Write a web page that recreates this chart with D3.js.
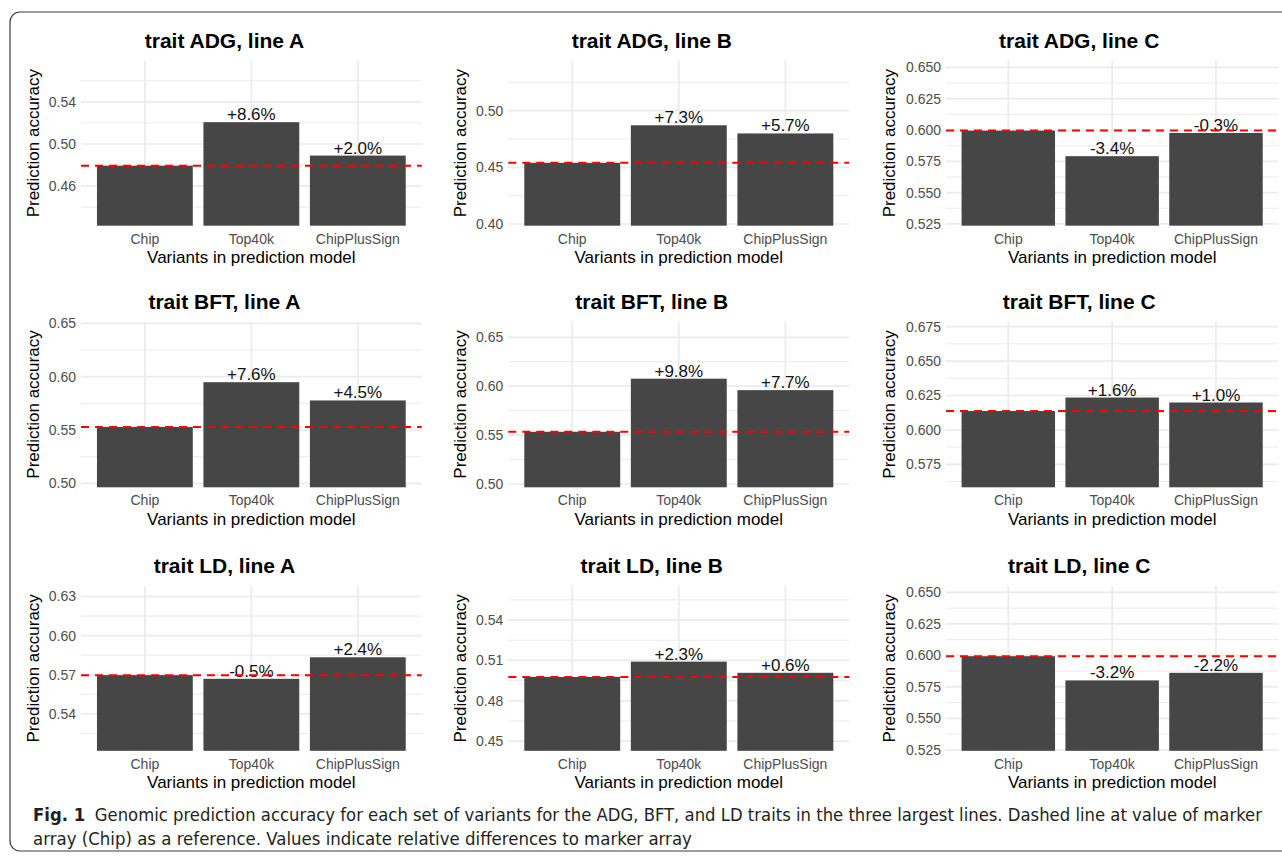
<!DOCTYPE html>
<html>
<head>
<meta charset="utf-8">
<script src="https://cdn.jsdelivr.net/npm/d3@7"></script>
<style>
  html, body { margin: 0; padding: 0; background: #fff; }
  svg { display: block; }
</style>
</head>
<body>
<svg id="fig" width="1282" height="858"></svg>
<script>
// Variant sets compared in every panel
const variantSets = ["Chip", "Top40k", "ChipPlusSign"];
const traits = ["ADG", "BFT", "LD"];
const lines = ["A", "B", "C"];

// Prediction accuracy for lines A, B, C (one value per variant set)
const accuracyADG = [
  [0.4794, 0.5207, 0.4890],
  [0.4540, 0.4871, 0.4799],
  [0.5995, 0.5791, 0.5976]
];
const accuracyBFT = [
  [0.5528, 0.5948, 0.5777],
  [0.5534, 0.6077, 0.5960],
  [0.6137, 0.6235, 0.6199]
];
const accuracyLD = [
  [0.5697, 0.5669, 0.5834],
  [0.4977, 0.5091, 0.5008],
  [0.5993, 0.5801, 0.5861]
];

// Visible y range of each panel
const yLimitsADG = [[0.4225, 0.5790], [0.3985, 0.5441], [0.5236, 0.6553]];
const yLimitsBFT = [[0.4963, 0.6515], [0.4966, 0.6660], [0.5583, 0.6786]];
const yLimitsLD  = [[0.5117, 0.6382], [0.4428, 0.5655], [0.5242, 0.6552]];

// Labelled y ticks of each panel
const yTicksADG = [[0.46, 0.50, 0.54], [0.40, 0.45, 0.50], [0.525, 0.550, 0.575, 0.600, 0.625, 0.650]];
const yTicksBFT = [[0.50, 0.55, 0.60, 0.65], [0.50, 0.55, 0.60, 0.65], [0.575, 0.600, 0.625, 0.650, 0.675]];
const yTicksLD  = [[0.54, 0.57, 0.60, 0.63], [0.45, 0.48, 0.51, 0.54], [0.525, 0.550, 0.575, 0.600, 0.625, 0.650]];

const xAxisTitle = "Variants in prediction model";
const yAxisTitle = "Prediction accuracy";
const captionBold = "Fig. 1";
const captionLine1 = "Genomic prediction accuracy for each set of variants for the ADG, BFT, and LD traits in the three largest lines. Dashed line at value of marker";
const captionLine2 = "array (Chip) as a reference. Values indicate relative differences to marker array";

const accuracyByTrait = { ADG: accuracyADG, BFT: accuracyBFT, LD: accuracyLD };
const limitsByTrait = { ADG: yLimitsADG, BFT: yLimitsBFT, LD: yLimitsLD };
const ticksByTrait = { ADG: yTicksADG, BFT: yTicksBFT, LD: yTicksLD };

// Grid layout of the 3 x 3 panels
const cellX = [0, 427.3, 854.7];
const plotLeft = [81, 508.3, 946];
const plotRight = [421.7, 849.3, 1278.3];
const yTitleX = [38.5, 466, 895.3];
const plotTop = [60.7, 321.7, 585.8];
const plotBottom = [225.7, 487.3, 750.8];

const FONT = "'Liberation Sans', Arial, Helvetica, sans-serif";
const GRID = "#EBEBEB";

const svg = d3.select("#fig");

function decimalsOf(ticks) {
  let d = 2;
  ticks.forEach(t => {
    const s = String(+t.toFixed(6));
    const k = s.includes(".") ? s.split(".")[1].length : 0;
    d = Math.max(d, k);
  });
  return d;
}

function relDiff(v, ref) {
  const p = (v / ref - 1) * 100;
  const s = p.toFixed(1);
  return (p >= 0 ? "+" : "") + s + "%";
}

function drawPanel(trait, line, row, col) {
  const values = accuracyByTrait[trait][col];
  const limits = limitsByTrait[trait][col];
  const ticks = ticksByTrait[trait][col];
  const data = variantSets.map((v, i) => ({ set: v, acc: values[i] }));
  const chip = values[0];

  const x = d3.scaleBand()
    .domain(variantSets)
    .range([plotLeft[col], plotRight[col]])
    .paddingInner(0.1)
    .paddingOuter(0.15);

  const y = d3.scaleLinear()
    .domain(limits)
    .range([plotBottom[row], plotTop[row]]);

  const g = svg.append("g").attr("class", `panel ${trait}-${line}`);

  // minor horizontal grid: halfway between labelled ticks
  const step = ticks[1] - ticks[0];
  const minor = [];
  for (let i = -1; i < ticks.length; i++) {
    const m = ticks[0] + (i + 0.5) * step;
    if (m >= limits[0] && m <= limits[1]) minor.push(m);
  }
  g.append("g").selectAll("line").data(minor).join("line")
    .attr("x1", plotLeft[col]).attr("x2", plotRight[col])
    .attr("y1", d => y(d)).attr("y2", d => y(d))
    .attr("stroke", GRID).attr("stroke-width", 1);

  // major horizontal grid
  g.append("g").selectAll("line").data(ticks).join("line")
    .attr("x1", plotLeft[col]).attr("x2", plotRight[col])
    .attr("y1", d => y(d)).attr("y2", d => y(d))
    .attr("stroke", GRID).attr("stroke-width", 1.7);

  // vertical grid at each category
  g.append("g").selectAll("line").data(variantSets).join("line")
    .attr("x1", d => x(d) + x.bandwidth() / 2).attr("x2", d => x(d) + x.bandwidth() / 2)
    .attr("y1", plotTop[row]).attr("y2", plotBottom[row])
    .attr("stroke", GRID).attr("stroke-width", 1.7);

  // bars
  g.append("g").selectAll("rect").data(data).join("rect")
    .attr("x", d => x(d.set))
    .attr("width", x.bandwidth())
    .attr("y", d => y(d.acc))
    .attr("height", d => y(limits[0]) - y(d.acc))
    .attr("fill", "#464646");

  // relative difference labels
  g.append("g").selectAll("text").data(data.slice(1)).join("text")
    .attr("x", d => x(d.set) + x.bandwidth() / 2)
    .attr("y", d => y(d.acc) - 2)
    .attr("text-anchor", "middle")
    .attr("font-family", FONT).attr("font-size", 17).attr("fill", "#111")
    .text(d => relDiff(d.acc, chip));

  // reference line at the Chip value
  g.append("line")
    .attr("x1", plotLeft[col]).attr("x2", plotRight[col])
    .attr("y1", y(chip)).attr("y2", y(chip))
    .attr("stroke", "#FF0000").attr("stroke-width", 2)
    .attr("stroke-dasharray", "8,6");

  // y axis tick labels
  const dec = decimalsOf(ticks);
  const yAxis = d3.axisLeft(y).tickValues(ticks).tickSize(0).tickPadding(5)
    .tickFormat(d3.format(`.${dec}f`));
  const ya = g.append("g").attr("transform", `translate(${plotLeft[col]},0)`).call(yAxis);
  ya.select(".domain").remove();
  ya.selectAll("text").attr("font-family", FONT).attr("font-size", 14).attr("fill", "#4D4D4D");

  // x axis tick labels
  const xAxis = d3.axisBottom(x).tickSize(0).tickPadding(0);
  const xa = g.append("g").attr("transform", `translate(0,${plotBottom[row]})`).call(xAxis);
  xa.select(".domain").remove();
  xa.selectAll("text").attr("font-family", FONT).attr("font-size", 14).attr("fill", "#4D4D4D")
    .attr("dy", null).attr("y", 18);

  // axis titles
  g.append("text")
    .attr("x", (plotLeft[col] + plotRight[col]) / 2)
    .attr("y", plotBottom[row] + 37.6)
    .attr("text-anchor", "middle")
    .attr("font-family", FONT).attr("font-size", 17).attr("fill", "#000")
    .text(xAxisTitle);

  g.append("text")
    .attr("transform", `translate(${yTitleX[col]},${(plotTop[row] + plotBottom[row]) / 2}) rotate(-90)`)
    .attr("text-anchor", "middle")
    .attr("font-family", FONT).attr("font-size", 17).attr("fill", "#000")
    .text(yAxisTitle);

  // panel title
  g.append("text")
    .attr("x", cellX[col] + 224.5)
    .attr("y", plotTop[row] - 12.5)
    .attr("text-anchor", "middle")
    .attr("font-family", FONT).attr("font-size", 21).attr("font-weight", "bold").attr("fill", "#000")
    .text(`trait ${trait}, line ${line}`);
}

traits.forEach((t, r) => lines.forEach((l, c) => drawPanel(t, l, r, c)));

// frame round the figure
svg.append("path")
  .attr("d", "M1282,12 H20 A10,10 0 0 0 10,22 V841 A10,10 0 0 0 20,851 H1282")
  .attr("fill", "none").attr("stroke", "#3a3a3a").attr("stroke-width", 1.2);

// caption
const CAP_FONT = "'Liberation Sans Narrow', 'DejaVu Sans Condensed', 'Roboto Condensed', 'Open Sans', Arial, sans-serif";
const cap = svg.append("g").attr("font-family", CAP_FONT).attr("font-size", 17).attr("fill", "#231F20");
const l1 = cap.append("text").attr("x", 33).attr("y", 821);
l1.append("tspan").attr("font-weight", "bold").text(captionBold);
l1.append("tspan").attr("dx", 9).text(captionLine1);
const l2 = cap.append("text").attr("x", 33).attr("y", 845).text(captionLine2);

// fit the first caption line to the text block width, keep the same scale for the second
const w1 = l1.node().getComputedTextLength();
const k = 1229 / w1;
l1.attr("textLength", w1 * k).attr("lengthAdjust", "spacingAndGlyphs");
const w2 = l2.node().getComputedTextLength();
l2.attr("textLength", w2 * k).attr("lengthAdjust", "spacingAndGlyphs");
</script>
</body>
</html>
